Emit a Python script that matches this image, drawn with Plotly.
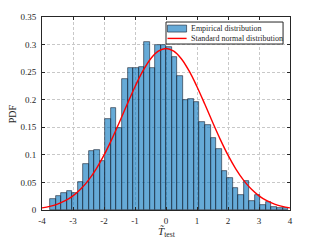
import plotly.graph_objects as go

# ---- data ----
bin_start = -3.742
bin_width = 0.1786
pdf_values = [0.020, 0.025, 0.030, 0.034, 0.031, 0.051, 0.084, 0.107, 0.109, 0.089,
              0.165, 0.185, 0.149, 0.237, 0.257, 0.257, 0.260, 0.304, 0.257, 0.299,
              0.299, 0.296, 0.278, 0.243, 0.200, 0.202, 0.196, 0.160, 0.154, 0.130,
              0.110, 0.070, 0.058, 0.039, 0.028, 0.053, 0.016, 0.028, 0.009, 0.015,
              0.005, 0.004, 0.003]

curve_x = [-4, -3.75, -3.5, -3.25, -3, -2.75, -2.5, -2.25, -2, -1.75, -1.5, -1.25, -1,
           -0.75, -0.5, -0.25, 0, 0.25, 0.5, 0.75, 1, 1.25, 1.5, 1.75, 2, 2.25, 2.5,
           2.75, 3, 3.25, 3.5, 3.75, 4]
curve_y = [0.0039, 0.0065, 0.0107, 0.0169, 0.0257, 0.0379, 0.0541, 0.0746, 0.0994,
           0.1281, 0.1595, 0.1921, 0.2236, 0.2517, 0.2739, 0.2881, 0.2930, 0.2881,
           0.2739, 0.2517, 0.2236, 0.1921, 0.1595, 0.1281, 0.0994, 0.0746, 0.0541,
           0.0379, 0.0257, 0.0169, 0.0107, 0.0065, 0.0039]

x_ticks = [-4, -3, -2, -1, 0, 1, 2, 3, 4]
x_ticktext = ["-4", "-3", "-2", "-1", "0", "1", "2", "3", "4"]
y_ticks = [0, 0.05, 0.1, 0.15, 0.2, 0.25, 0.3, 0.35]
y_ticktext = ["0", "0.05", "0.1", "0.15", "0.2", "0.25", "0.3", "0.35"]
legend_labels = ["Empirical distribution", "Standard normal distribution"]
x_title = "<i>T\u0303</i><sub>test</sub>"
y_title = "PDF"

bin_centers = [bin_start + (i + 0.5) * bin_width for i in range(len(pdf_values))]

FONT = "Liberation Serif"
DARK = "#262626"
BAR_FILL = "rgba(0,114,189,0.6)"
BAR_EDGE = "rgba(20,30,45,0.85)"

fig = go.Figure()
fig.add_trace(go.Bar(
    x=bin_centers, y=pdf_values, width=[bin_width] * len(pdf_values),
    name=legend_labels[0], showlegend=False,
    marker=dict(color=BAR_FILL, line=dict(color=BAR_EDGE, width=0.7)),
))
fig.add_trace(go.Scatter(
    x=curve_x, y=curve_y, mode="lines", line_shape="spline",
    name=legend_labels[1], showlegend=False,
    line=dict(color="#ff0000", width=1.4),
))

axis_common = dict(
    showline=True, linecolor=DARK, linewidth=1, mirror="ticks",
    ticks="inside", ticklen=3, tickcolor=DARK, tickwidth=1,
    showgrid=True, gridcolor="#c8c8c8", gridwidth=0.8, griddash="3px,2px",
    zeroline=False, automargin=False,
    tickfont=dict(family=FONT, size=9, color=DARK),
)

# legend drawn as a boxed key in the upper right (paper coordinates)
shapes = [
    dict(type="rect", xref="paper", yref="paper", x0=0.5, x1=0.972, y0=0.86, y1=0.974,
         fillcolor="white", line=dict(color=DARK, width=1), layer="above"),
    dict(type="rect", xref="paper", yref="paper", x0=0.506, x1=0.583, y0=0.922, y1=0.958,
         fillcolor=BAR_FILL, line=dict(color=BAR_EDGE, width=0.7), layer="above"),
    dict(type="line", xref="paper", yref="paper", x0=0.506, x1=0.583, y0=0.889, y1=0.889,
         line=dict(color="#ff0000", width=1.4), layer="above"),
]
annotations = [
    dict(text=legend_labels[0], xref="paper", yref="paper", x=0.592, y=0.941,
         xanchor="left", yanchor="middle", showarrow=False,
         font=dict(family=FONT, size=8, color=DARK)),
    dict(text=legend_labels[1], xref="paper", yref="paper", x=0.592, y=0.889,
         xanchor="left", yanchor="middle", showarrow=False,
         font=dict(family=FONT, size=8, color=DARK)),
    dict(text=x_title, xref="paper", yref="paper", x=0.505, y=-0.115,
         xanchor="center", yanchor="middle", showarrow=False,
         font=dict(family=FONT, size=11, color=DARK)),
    dict(text=y_title, xref="paper", yref="paper", x=-0.118, y=0.5, textangle=-90,
         xanchor="center", yanchor="middle", showarrow=False,
         font=dict(family=FONT, size=10, color=DARK)),
]

# the page body has an 8px default margin, so the figure is 8px smaller
fig.update_layout(
    width=311, height=233,
    margin=dict(l=34, r=29, t=9, b=31),
    paper_bgcolor="white", plot_bgcolor="white",
    bargap=0,
    showlegend=False,
    shapes=shapes, annotations=annotations,
    xaxis=dict(range=[-4, 4], tickvals=x_ticks, ticktext=x_ticktext,
               ticklabelstandoff=2, **axis_common),
    yaxis=dict(range=[0, 0.35], tickvals=y_ticks, ticktext=y_ticktext,
               ticklabelstandoff=3, **axis_common),
)

fig.write_html("out.html")
